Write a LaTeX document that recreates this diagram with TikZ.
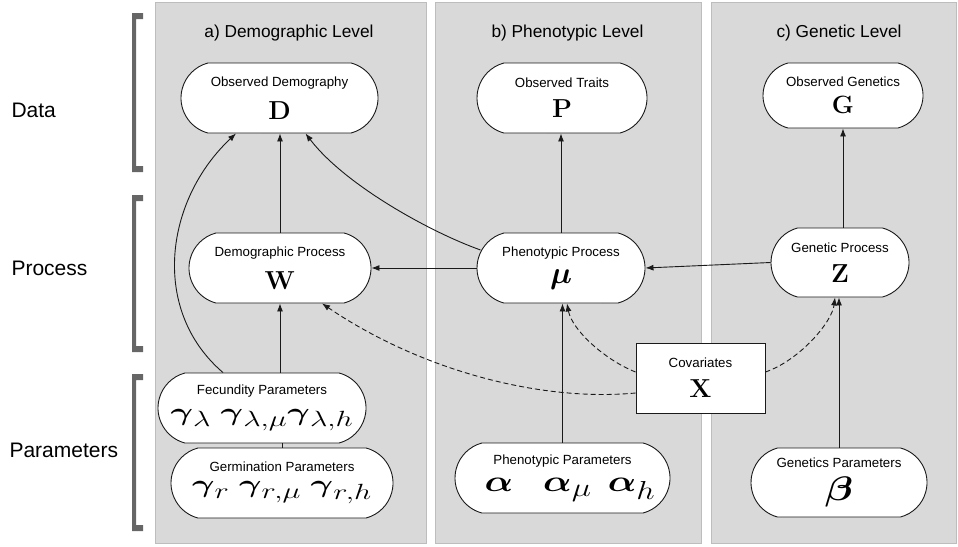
\RequirePackage{fix-cm}
\documentclass[tikz,border=0pt]{standalone}
\usepackage{amsmath}
\usepackage{graphicx}
\usepackage[no-math]{fontspec}
\setmainfont{Liberation Sans}
\usetikzlibrary{arrows.meta,calc,shapes.misc}
\DeclareMathSizes{25}{25}{22}{17}
\DeclareMathSizes{30}{30}{26}{20}
\definecolor{panelgray}{HTML}{D9D9D9}
\definecolor{panelborder}{HTML}{BDBDBD}
\definecolor{bracketgray}{HTML}{666666}
\definecolor{inkc}{HTML}{1A1A1A}
\newcommand\nlab{\fontsize{13.3}{15}\selectfont}
\newcommand\nmath[1]{\fontsize{#1}{#1}\selectfont}
\tikzset{
  panel/.style={fill=panelgray, draw=panelborder, line width=1pt},
  pill/.style={rounded rectangle, rounded rectangle arc length=150, draw=inkc, fill=white, line width=0.9pt, align=center, inner sep=0pt},
  sqbox/.style={draw=inkc, fill=white, line width=0.9pt, align=center, inner sep=0pt},
  arr/.style={-{Latex[length=8pt,width=6pt]}, line width=0.9pt, draw=inkc},
  darr/.style={arr, dash pattern=on 5pt off 3pt},
  brack/.style={fill=bracketgray},
  sidelbl/.style={anchor=west, font=\fontsize{21}{24}\selectfont},
  paneltitle/.style={font=\fontsize{17.3}{20}\selectfont},
}
\begin{document}
\begin{tikzpicture}[x=1pt,y=-1pt]
\path[use as bounding box] (0,0) rectangle (958,546);
% panels
\draw[panel] (155,2) rectangle (426,543);
\draw[panel] (435,2) rectangle (701,543);
\draw[panel] (711,2) rectangle (956,543);
\node[paneltitle] (ta) at (289,33) {a) Demographic Level};
\node[paneltitle] (tb) at (567.5,33) {b) Phenotypic Level};
\node[paneltitle] (tc) at (839,33) {c) Genetic Level};
% side labels and brackets
\node[sidelbl] (ldata) at (8,110) {Data};
\node[sidelbl] (lproc) at (8,268) {Process};
\node[sidelbl] (lpar) at (6,450) {Parameters};
\fill[brack] (143,13) -- (132,13) -- (132,172) -- (143,172) -- (143,166) -- (136,166) -- (136,19) -- (143,19) -- cycle;
\fill[brack] (143,195) -- (132,195) -- (132,352) -- (143,352) -- (143,346) -- (136,346) -- (136,201) -- (143,201) -- cycle;
\fill[brack] (143,374) -- (132,374) -- (132,531) -- (143,531) -- (143,525) -- (136,525) -- (136,380) -- (143,380) -- cycle;
% nodes
\node[pill, minimum width=197pt, minimum height=70pt] (D) at (279.5,98)
  {{\nlab Observed Demography}\\[11pt]{\nmath{26}$\mathbf{D}$}};
\node[pill, minimum width=170pt, minimum height=70pt] (P) at (562,98)
  {{\nlab Observed Traits}\\[11pt]{\nmath{26}$\mathbf{P}$}};
\node[pill, minimum width=160pt, minimum height=65pt] (G) at (843,95.5)
  {{\nlab Observed Genetics}\\[9pt]{\nmath{25}$\mathbf{G}$}};
\node[pill, minimum width=182pt, minimum height=70pt] (W) at (280,268)
  {{\nlab Demographic Process}\\[11pt]{\nmath{26}$\mathbf{W}$}};
\node[pill, minimum width=168pt, minimum height=70pt] (mu) at (561,268)
  {{\nlab Phenotypic Process}\\[9pt]{\nmath{31}$\boldsymbol{\mu}$}};
\node[pill, minimum width=138pt, minimum height=69pt] (Z) at (840,262.5)
  {{\nlab Genetic Process}\\[11pt]{\nmath{26}$\mathbf{Z}$}};
\node[sqbox, minimum width=129pt, minimum height=70pt] (X) at (700.5,378)
  {{\nlab Covariates}\\[11pt]{\nmath{26}$\mathbf{X}$}};
\node[pill, minimum width=208pt, minimum height=70pt] (F) at (262,408)
  {{\nlab Fecundity Parameters}\\[11pt]{\nmath{25}\scalebox{1.38}[1]{$\boldsymbol{\gamma}_\lambda\;\boldsymbol{\gamma}_{\lambda,\mu}\boldsymbol{\gamma}_{\lambda,h}$}}};
\node[pill, minimum width=222pt, minimum height=70pt] (R) at (282,483)
  {{\nlab Germination Parameters}\\[9pt]{\nmath{25}\scalebox{1.38}[1]{$\boldsymbol{\gamma}_r\;\boldsymbol{\gamma}_{r,\mu}\;\boldsymbol{\gamma}_{r,h}$}}};
\node[pill, minimum width=215pt, minimum height=70pt] (A) at (562.5,478)
  {{\nlab Phenotypic Parameters}\\[10pt]{\nmath{30}\scalebox{1.25}[1]{\hspace{12pt}$\boldsymbol{\alpha}\hspace{24pt}\boldsymbol{\alpha}_\mu\hspace{13pt}\boldsymbol{\alpha}_h$}}};
\node[pill, minimum width=176pt, minimum height=69pt] (B) at (839,482.5)
  {{\nlab Genetics Parameters}\\[9pt]{\nmath{34}\scalebox{1.2}[1]{$\boldsymbol{\beta}$}}};
% connectors
\draw[line width=0.9pt, draw=inkc] (R.north) -- (R.north |- F.south);
\draw[arr] (W.north) -- (W.north |- D.south);
\draw[arr] (W.south |- F.north) -- (W.south);
\draw[arr] ([xshift=-39pt]F.north) .. controls (150,310) and (165,200) .. ([xshift=-43.5pt]D.south);
\draw[arr] ([shift={(4,-18)}]mu.west) .. controls (430,232) and (345,185) .. ([xshift=26pt]D.south);
\draw[arr] (mu.west) -- (W.east);
\draw[arr] (Z.west) -- (mu.east);
\draw[arr] (mu.north) -- (mu.north |- P.south);
\draw[arr] (G.south |- Z.north) -- (G.south);
\draw[arr] (A.north) -- (A.north |- mu.south);
\draw[arr] (B.north) -- (B.north |- Z.south);
\draw[darr] ([yshift=-15pt]X.west) .. controls (540,402) and (420,370) .. ([xshift=42pt]W.south);
\draw[darr] ([yshift=6pt]X.west) .. controls (605,360) and (572,330) .. ([xshift=6pt]mu.south);
\draw[darr] ([yshift=6pt]X.east) .. controls (800,360) and (832,322) .. ([xshift=-5pt]Z.south);
\end{tikzpicture}
\end{document}
